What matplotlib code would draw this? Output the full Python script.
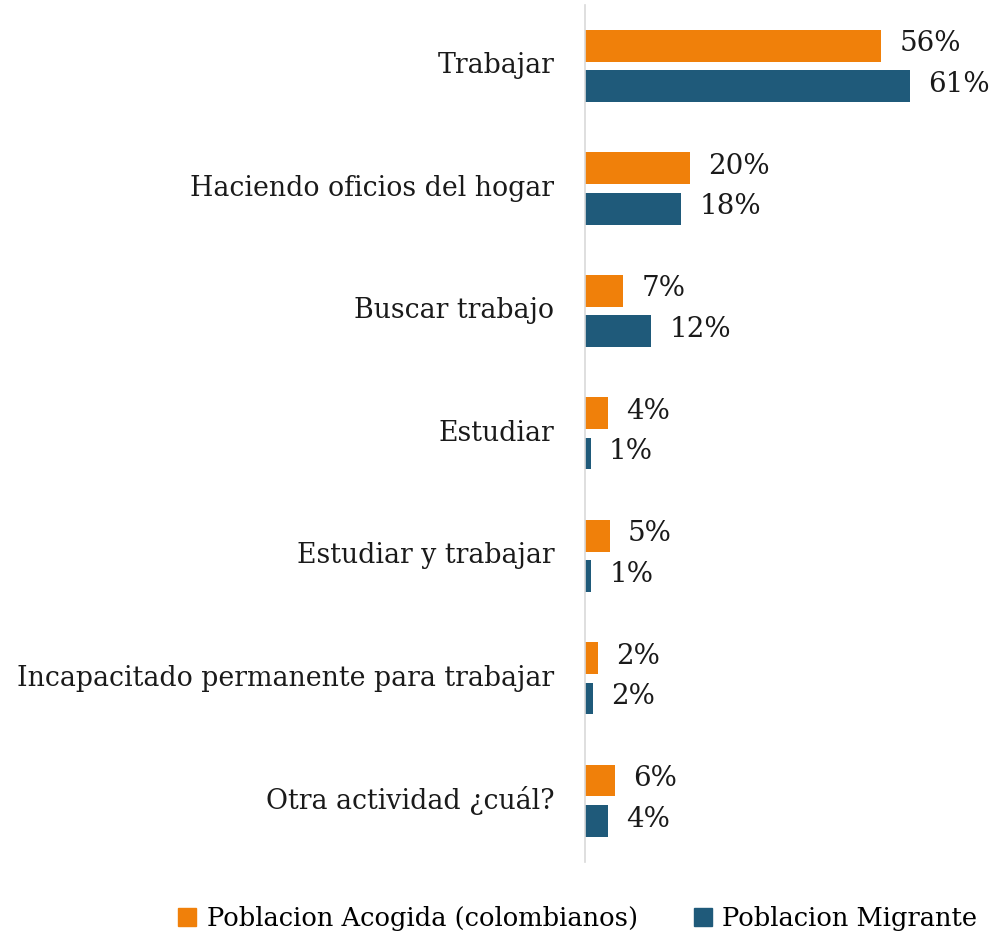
import numpy as np
import matplotlib.pyplot as plt
from matplotlib.patches import Patch

# Data
categorias = ['Trabajar', 'Haciendo oficios del hogar', 'Buscar trabajo', 'Estudiar',
              'Estudiar y trabajar', 'Incapacitado permanente para trabajar', 'Otra actividad ¿cuál?']
acogida = [55.6, 19.7, 7.2, 4.3, 4.7, 2.4, 5.6]
migrante = [61.0, 18.1, 12.4, 1.1, 1.2, 1.5, 4.3]
etiquetas_acogida = ['56%', '20%', '7%', '4%', '5%', '2%', '6%']
etiquetas_migrante = ['61%', '18%', '12%', '1%', '1%', '2%', '4%']
series = ['Poblacion Acogida (colombianos)', 'Poblacion Migrante']

Color_Acogida = '#F0800A'
Color_Migrante = '#1F5A7A'

plt.rcParams['font.family'] = ['DejaVu Serif']

fig = plt.figure(figsize=(10.05, 9.41), dpi=100)
ax = fig.add_axes([0.582, 0.084, 0.35, 0.911])

y = np.arange(len(categorias))
bar_h = 0.26
ax.barh(y - 0.165, acogida, height=bar_h, color=Color_Acogida)
ax.barh(y + 0.165, migrante, height=bar_h, color=Color_Migrante)

for yi, v, lab in zip(y, acogida, etiquetas_acogida):
    ax.text(v + 3.4, yi - 0.18, lab, va='center', ha='left', fontsize=20, color='#1a1a1a')
for yi, v, lab in zip(y, migrante, etiquetas_migrante):
    ax.text(v + 3.4, yi + 0.15, lab, va='center', ha='left', fontsize=20, color='#1a1a1a')

ax.set_yticks(y)
ax.set_yticklabels(categorias, fontsize=19.3, color='#1a1a1a', va='center')
ax.tick_params(axis='y', length=0, pad=22)
ax.set_ylim(len(categorias) - 0.5, -0.5)
ax.set_xlim(0, 66)
ax.set_xticks([])
for s in ['top', 'right', 'bottom']:
    ax.spines[s].set_visible(False)
ax.spines['left'].set_color('#d9d9d9')
ax.spines['left'].set_linewidth(1.2)

handles = [Patch(color=Color_Acogida), Patch(color=Color_Migrante)]
fig.legend(handles, series, loc='center', bbox_to_anchor=(0.575, 0.024), ncol=2, frameon=False,
           fontsize=18.5, handlelength=0.7, handleheight=0.7, handletextpad=0.4, columnspacing=2.2)

fig.savefig('out.png', dpi=100)
